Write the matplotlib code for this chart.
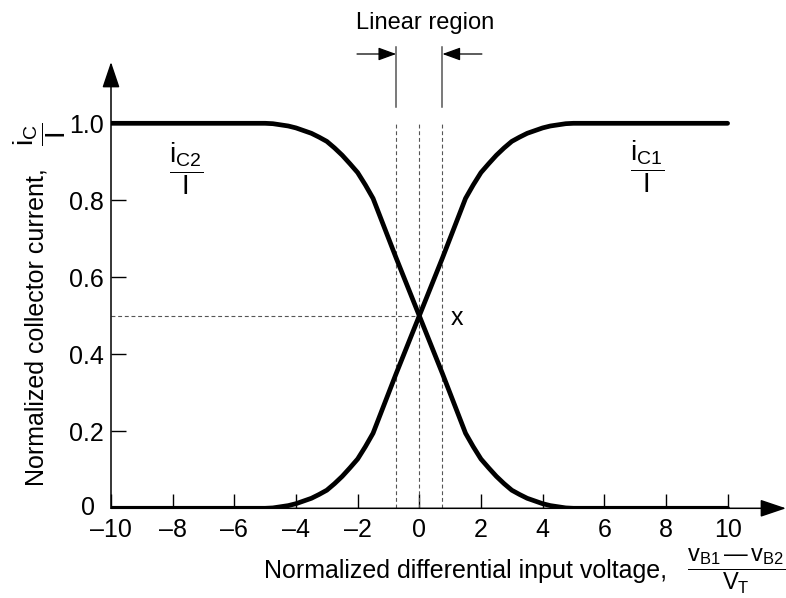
import matplotlib
matplotlib.use("Agg")
import matplotlib.pyplot as plt

plt.rcParams['font.family'] = ['Liberation Sans', 'DejaVu Sans']
plt.rcParams['mathtext.fontset'] = 'custom'
plt.rcParams['mathtext.rm'] = 'Liberation Sans'
plt.rcParams['mathtext.it'] = 'Liberation Sans'
plt.rcParams['mathtext.bf'] = 'Liberation Sans:bold'

# Normalized differential input voltage (vB1 - vB2) / VT
vd = [-10, -5, -4.75, -4.5, -4.25, -4, -3.75, -3.5, -3.25, -3, -2.75, -2.5,
      -2.25, -2, -1.75, -1.5, -0.75, 0, 0.75, 1.5, 1.75, 2, 2.25, 2.5, 2.75,
      3, 3.25, 3.5, 3.75, 4, 4.25, 4.5, 4.75, 5, 10]
# Normalized collector currents iC1/I and iC2/I
ic1 = [0.0, 0.0, 0.001, 0.004, 0.007, 0.012, 0.019, 0.026, 0.036, 0.047,
       0.064, 0.083, 0.105, 0.128, 0.16, 0.195, 0.35, 0.5, 0.65, 0.805,
       0.84, 0.872, 0.895, 0.917, 0.936, 0.953, 0.964, 0.974, 0.981, 0.988,
       0.993, 0.996, 0.999, 1.0, 1.0]
ic2 = [1.0, 1.0, 0.999, 0.996, 0.993, 0.988, 0.981, 0.974, 0.964, 0.953,
       0.936, 0.917, 0.895, 0.872, 0.84, 0.805, 0.65, 0.5, 0.35, 0.195,
       0.16, 0.128, 0.105, 0.083, 0.064, 0.047, 0.036, 0.026, 0.019, 0.012,
       0.007, 0.004, 0.001, 0.0, 0.0]

x_ticks = [-10, -8, -6, -4, -2, 0, 2, 4, 6, 8, 10]
x_tick_labels = ['\u201310', '\u20138', '\u20136', '\u20134', '\u20132',
                 '0', '2', '4', '6', '8', '10']
y_ticks = [0.2, 0.4, 0.6, 0.8, 1.0]
y_tick_labels = ['0.2', '0.4', '0.6', '0.8', '1.0']
origin_label = '0'

linear_edges = [-0.75, 0.75]
q_point = (0.0, 0.5)

W, H = 786, 598
fig = plt.figure(figsize=(W / 100, H / 100), dpi=100)

# axes geometry: x = -10 at 111 px, 30.83 px per unit; y = 0 at 508.3 px, 385 px per unit
left_px, zero_y_px = 111.0, 508.3
sx, sy = 30.83, 385.0
ax = fig.add_axes([left_px / W, 1 - zero_y_px / H, (W - left_px) / W, zero_y_px / H])
xmax = -10 + (W - left_px) / sx
ymax = zero_y_px / sy
ax.set_xlim(-10, xmax)
ax.set_ylim(0, ymax)
for s in ax.spines.values():
    s.set_visible(False)
ax.patch.set_visible(False)

FS = 18
ax.set_xticks(x_ticks)
ax.set_xticklabels(x_tick_labels, fontsize=FS)
ax.set_yticks(y_ticks)
ax.set_yticklabels(y_tick_labels, fontsize=FS)
ax.tick_params(axis='both', direction='in', width=1.0, color='black')
ax.tick_params(axis='x', length=10, pad=7)
ax.tick_params(axis='y', length=11, pad=5)
ax.annotate(origin_label, xy=(-10, 0), xytext=(-23.5, 0), textcoords='offset pixels',
            ha='center', va='center', fontsize=FS)

# axes with arrowheads
arrow_kw = dict(arrowstyle='-|>,head_length=0.8,head_width=0.27', mutation_scale=20,
                lw=1.1, color='black', shrinkA=0, shrinkB=0)
ax.annotate('', xy=(xmax, 0), xytext=(-10, 0), arrowprops=arrow_kw)
ax.annotate('', xy=(-10, (zero_y_px - 62) / sy), xytext=(-10, 0), arrowprops=arrow_kw)

# dashed guide lines
gray = '#555555'
dash = dict(color=gray, lw=0.8, linestyle=(0, (3.5, 2.5)))
for xe in linear_edges + [q_point[0]]:
    ax.plot([xe, xe], [0, 1.0], **dash)
ax.plot([-10, q_point[0]], [q_point[1], q_point[1]], **dash)

# linear region markers
y_top, y_bot = (zero_y_px - 47) / sy, (zero_y_px - 107) / sy
y_arr = (zero_y_px - 54) / sy
for xe in linear_edges:
    ax.plot([xe, xe], [y_bot, y_top], color=gray, lw=1.1)
small_arrow = dict(arrowstyle='-|>,head_length=0.55,head_width=0.2', mutation_scale=20,
                   lw=0.9, color='black', shrinkA=0, shrinkB=0)
ax.annotate('', xy=(linear_edges[0], y_arr), xytext=(-2.02, y_arr), arrowprops=small_arrow)
ax.annotate('', xy=(linear_edges[1], y_arr), xytext=(2.03, y_arr), arrowprops=small_arrow)
ax.text(0.18, (zero_y_px - 23) / sy, 'Linear region', ha='center', va='center', fontsize=17)

# transfer curves
ax.plot(vd, ic1, color='black', lw=3.4, solid_joinstyle='round', solid_capstyle='round')
ax.plot(vd, ic2, color='black', lw=3.4, solid_joinstyle='round', solid_capstyle='round')

ax.text(1.22, (zero_y_px - 318) / sy, 'x', ha='center', va='center', fontsize=FS)

# curve labels
ax.text((186 - left_px) / sx - 10, (zero_y_px - 169) / sy,
        r'$\dfrac{\mathrm{i}_{\mathrm{C2}}}{\mathrm{I}}$', ha='center', va='center', fontsize=20)
ax.text((647 - left_px) / sx - 10, (zero_y_px - 167) / sy,
        r'$\dfrac{\mathrm{i}_{\mathrm{C1}}}{\mathrm{I}}$', ha='center', va='center', fontsize=20)


def fpos(px, py):
    return px / W, 1 - py / H


# axis titles
x_frac = (r'$\dfrac{\mathrm{v}_{\mathrm{B1}}\,' + '\u2014' +
          r'\,\mathrm{v}_{\mathrm{B2}}}{\mathrm{V}_{\mathrm{T}}}$')
fig.text(*fpos(667, 578), 'Normalized differential input voltage,', ha='right',
         va='baseline', fontsize=FS)
fig.text(*fpos(736, 571), x_frac, ha='center', va='center', fontsize=17)
fig.text(*fpos(37, 327), 'Normalized collector current,', rotation=90, ha='center',
         va='center', fontsize=FS)
fig.text(*fpos(40, 134), r'$\dfrac{\mathrm{i}_{\mathrm{C}}}{\mathrm{I}}$', rotation=90,
         ha='center', va='center', fontsize=20)

fig.savefig('out.png', dpi=100)
